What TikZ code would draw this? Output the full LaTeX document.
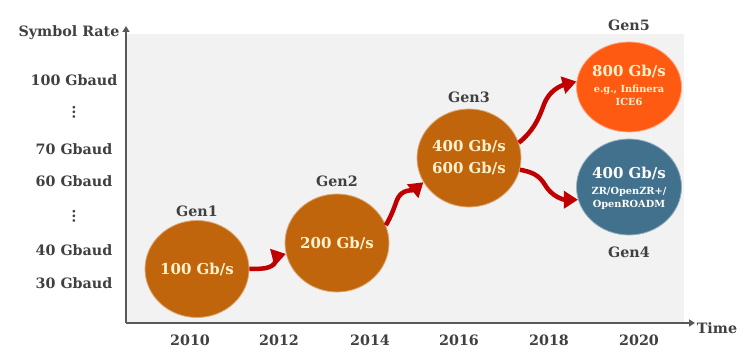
\documentclass[tikz,border=0pt]{standalone}
\usepackage{fontspec}
\setmainfont{DejaVu Serif}
\usetikzlibrary{shapes.geometric,arrows.meta}
\definecolor{txt}{HTML}{404040}
\definecolor{bggray}{HTML}{F2F2F2}
\definecolor{axisgray}{HTML}{595959}
\definecolor{brown}{HTML}{C0650C}
\definecolor{orng}{HTML}{FF5A12}
\definecolor{steel}{HTML}{41718D}
\definecolor{cream}{HTML}{FFF2CC}
\definecolor{arrred}{HTML}{C00000}
\newcommand\sm{\fontsize{9.8}{12}\selectfont}
\tikzset{
  lbl/.style={font=\bfseries\fontsize{14.3}{16}\selectfont, text=txt, inner sep=0pt},
  gen/.style={ellipse, draw=#1!55!white, line width=0.8pt, fill=#1, inner sep=0pt,
    minimum width=104pt, minimum height=97pt},
  gentext/.style={align=center, text=cream, inner sep=0pt,
    font=\bfseries\fontsize{15}{22}\selectfont},
  wave/.style={draw=arrred, line width=4.5pt, -{Triangle[width=17pt,length=14pt]}},
  axis/.style={draw=axisgray, line width=2.2pt},
}
\begin{document}
\begin{tikzpicture}[x=1pt,y=1pt]
\useasboundingbox (0,0) rectangle (746,362);
\fill[bggray] (126,39) rectangle (684,328);
% axes
\coordinate (o) at (126,39);
\coordinate (ytop) at (126,336);
\coordinate (xend) at (695,39);
\draw[axis,-{Triangle[width=7pt,length=6pt]}] (o) -- (ytop);
\draw[axis,-{Triangle[width=7pt,length=6pt]}] (o) -- (xend);
\node[lbl] (sr) at (69,329) {Symbol Rate};
\node[lbl] (time) at (717,34) {Time};
% y labels
\node[lbl] (y100) at (74,282) {100 Gbaud};
\node[lbl] (d1) at (74,250) {\rotatebox{90}{\dots}};
\node[lbl] (y70) at (74,213) {70 Gbaud};
\node[lbl] (y60) at (74,181) {60 Gbaud};
\node[lbl] (d2) at (74,146) {\rotatebox{90}{\dots}};
\node[lbl] (y40) at (74,112) {40 Gbaud};
\node[lbl] (y30) at (74,79) {30 Gbaud};
% x labels
\node[lbl] (x2010) at (190,22) {2010};
\node[lbl] (x2012) at (279,22) {2012};
\node[lbl] (x2014) at (370,22) {2014};
\node[lbl] (x2016) at (459,22) {2016};
\node[lbl] (x2018) at (549,22) {2018};
\node[lbl] (x2020) at (639,22) {2020};
% generations
\node[gen=brown] (g1) at (197,93) {};
\node[gen=brown, minimum height=98pt] (g2) at (337,119) {};
\node[gen=brown, minimum height=98pt] (g3) at (469,204) {};
\node[gen=orng, minimum width=105pt, minimum height=90pt] (g5) at (629,275) {};
\node[gen=steel, minimum width=105pt, minimum height=96pt] (g4) at (629,175) {};
\node[gentext] (t1) at (g1) {100 Gb/s};
\node[gentext] (t2) at (g2) {200 Gb/s};
\node[gentext] (t3) at ([yshift=1pt]g3.center) {400 Gb/s\\600 Gb/s};
\node[gentext] (t5) at ([yshift=2pt]g5.center) {800 Gb/s\\[-6pt]{\sm e.g., Infinera}\\[-9pt]{\sm ICE6}};
\node[gentext, text=white] (t4) at ([yshift=-1pt]g4.center) {400 Gb/s\\[-6pt]{\sm ZR/OpenZR+/}\\[-9pt]{\sm OpenROADM}};
\node[lbl] (l1) at (197,151) {Gen1};
\node[lbl] (l2) at (337,181) {Gen2};
\node[lbl] (l3) at (469,265) {Gen3};
\node[lbl] (l5) at (629,337) {Gen5};
\node[lbl] (l4) at (629,110) {Gen4};
% arrows
\path[wave] (g1.east) to[out=5,in=200] ++(20,2) to[out=20,in=195] (g2.192);
\path[wave] (g2.20) to[out=60,in=-110] ++(11,25) to[out=70,in=220] (g3.208);
\path[wave] (g3.17) to[out=40,in=-110] ++(25,38) to[out=70,in=195] (g5.174);
\path[wave] (g3.-13) to[out=-10,in=120] ++(25,-15) to[out=-60,in=180] (g4.194);
\end{tikzpicture}
\end{document}
